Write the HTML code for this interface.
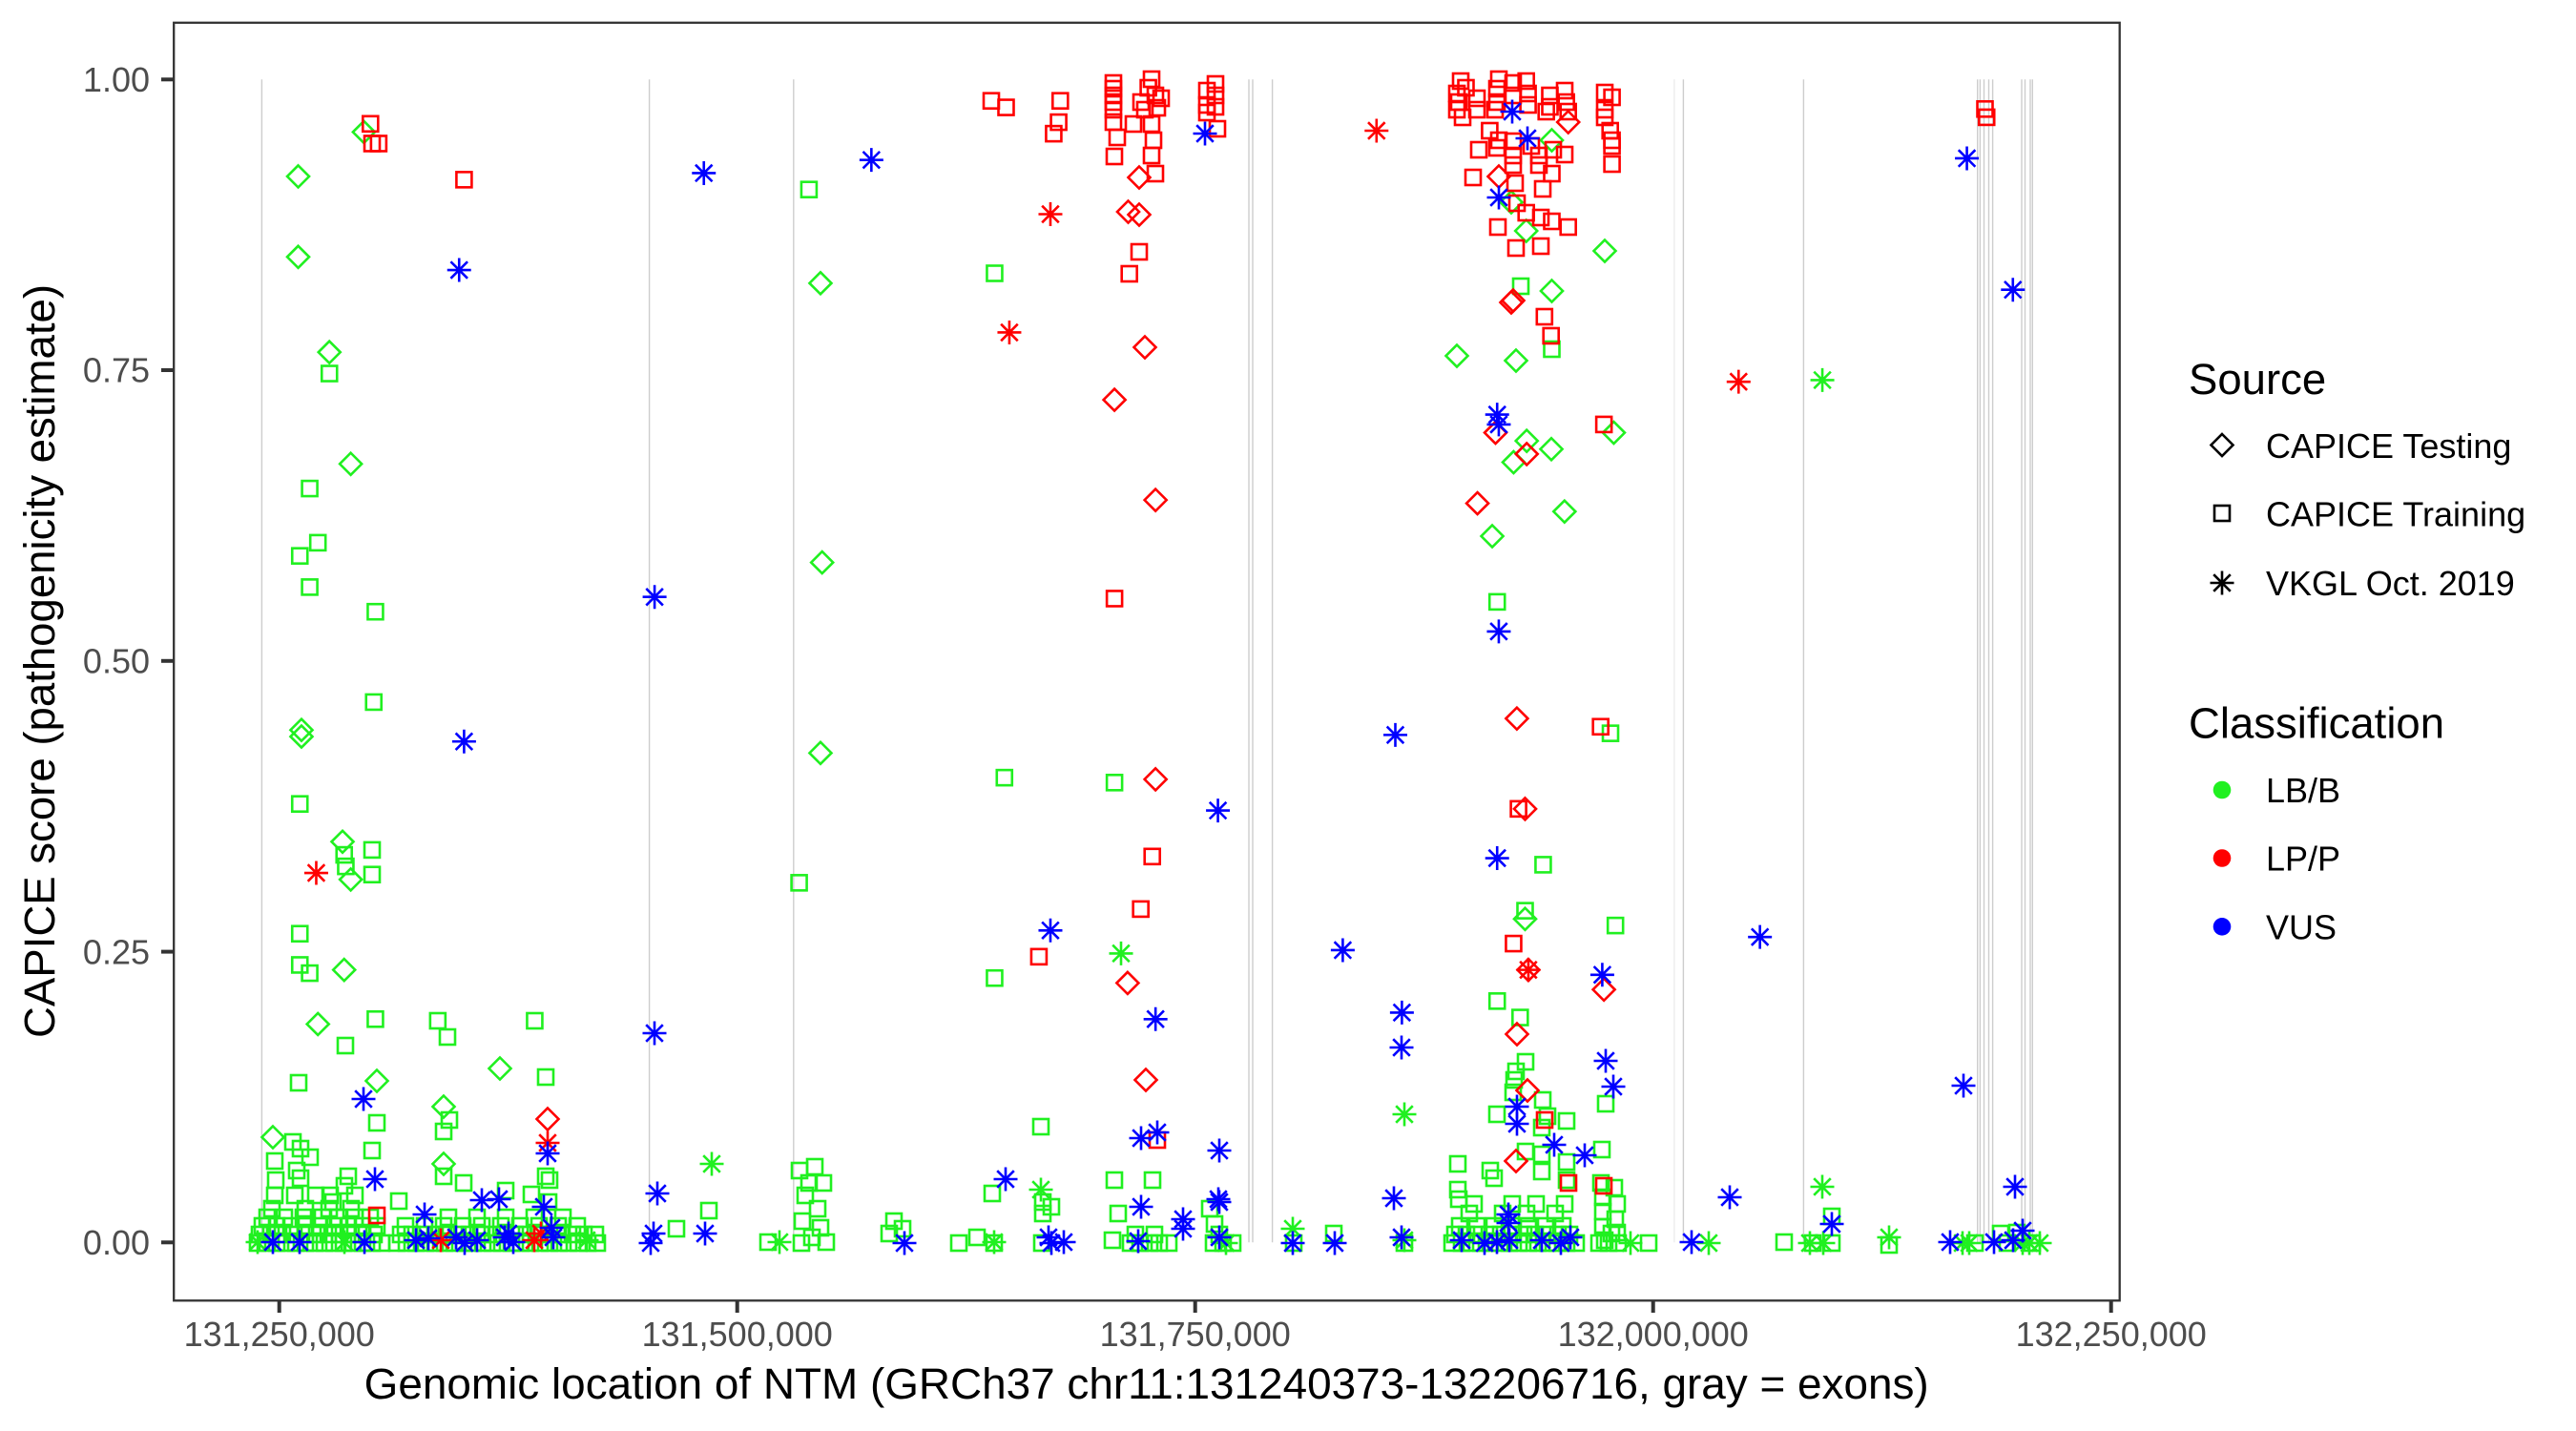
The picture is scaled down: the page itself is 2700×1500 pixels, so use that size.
<!DOCTYPE html>
<html><head><meta charset="utf-8"><style>
html,body{margin:0;padding:0;background:#fff;}
svg{display:block;font-family:"Liberation Sans",Arial,sans-serif;}
</style></head><body>
<svg width="2700" height="1500" viewBox="0 0 2700 1500" xmlns="http://www.w3.org/2000/svg" xmlns:xlink="http://www.w3.org/1999/xlink">
<rect x="0" y="0" width="2700" height="1500" fill="#fff"/>
<defs>
<rect id="s" x="-8" y="-8" width="16" height="16"/>
<path id="d" d="M0 -11.5L11.5 0L0 11.5L-11.5 0Z"/>
<path id="a" d="M0 -12.5V12.5M-12.5 0H12.5M-8.8 -8.8L8.8 8.8M-8.8 8.8L8.8 -8.8"/>
<g id="S" transform="scale(.5809 .5807)"><use href="#s"/></g>
<g id="D" transform="scale(.5809 .5807)"><use href="#d"/></g>
<g id="A" transform="scale(.5809 .5807)"><use href="#a"/></g>
</defs>

<!-- exon lines -->
<g stroke="#cdcdcd" stroke-width="1.4">
<line x1="274.4" y1="83.3" x2="274.4" y2="1302.3"/>
<line x1="680.6" y1="83.3" x2="680.6" y2="1302.3"/>
<line x1="831.8" y1="83.3" x2="831.8" y2="1302.3"/>
<line x1="1309" y1="83.3" x2="1309" y2="1302.3"/>
<line x1="1313" y1="83.3" x2="1313" y2="1302.3"/>
<line x1="1333.6" y1="83.3" x2="1333.6" y2="1302.3"/>
<line x1="1754.9" y1="83.3" x2="1754.9" y2="1302.3" stroke="#ececec"/>
<line x1="1764.4" y1="83.3" x2="1764.4" y2="1302.3"/>
<line x1="1890.4" y1="83.3" x2="1890.4" y2="1302.3"/>
<line x1="2072.7" y1="83.3" x2="2072.7" y2="1302.3"/>
<line x1="2075.4" y1="83.3" x2="2075.4" y2="1302.3"/>
<line x1="2079.5" y1="83.3" x2="2079.5" y2="1302.3"/>
<line x1="2084.5" y1="83.3" x2="2084.5" y2="1302.3"/>
<line x1="2088.6" y1="83.3" x2="2088.6" y2="1302.3"/>
<line x1="2119" y1="83.3" x2="2119" y2="1302.3"/>
<line x1="2122.5" y1="83.3" x2="2122.5" y2="1302.3"/>
<line x1="2128" y1="83.3" x2="2128" y2="1302.3"/>
<line x1="2130.3" y1="83.3" x2="2130.3" y2="1302.3"/>
</g>

<!-- GREEN (orig coords) -->
<g fill="none" stroke="#20f020" stroke-width="2.6">
<!-- band A -->
<use href="#s" x="270" y="1303"/><use href="#s" x="280" y="1303"/><use href="#s" x="290" y="1303"/><use href="#s" x="300" y="1303"/><use href="#s" x="310" y="1303"/><use href="#s" x="320" y="1303"/><use href="#s" x="330" y="1303"/><use href="#s" x="340" y="1303"/><use href="#s" x="350" y="1303"/><use href="#s" x="360" y="1303"/><use href="#s" x="370" y="1303"/><use href="#s" x="380" y="1303"/><use href="#s" x="390" y="1303"/><use href="#s" x="400" y="1303"/>
<use href="#s" x="272" y="1294"/><use href="#s" x="284" y="1294"/><use href="#s" x="296" y="1294"/><use href="#s" x="308" y="1294"/><use href="#s" x="320" y="1294"/><use href="#s" x="332" y="1294"/><use href="#s" x="344" y="1294"/><use href="#s" x="356" y="1294"/><use href="#s" x="368" y="1294"/><use href="#s" x="380" y="1294"/><use href="#s" x="392" y="1294"/>
<use href="#s" x="275" y="1285"/><use href="#s" x="290" y="1285"/><use href="#s" x="305" y="1285"/><use href="#s" x="320" y="1285"/><use href="#s" x="335" y="1285"/><use href="#s" x="350" y="1285"/><use href="#s" x="365" y="1285"/><use href="#s" x="380" y="1285"/><use href="#s" x="395" y="1285"/>
<use href="#s" x="280" y="1276"/><use href="#s" x="298" y="1276"/><use href="#s" x="318" y="1276"/><use href="#s" x="338" y="1276"/><use href="#s" x="355" y="1276"/><use href="#s" x="372" y="1276"/><use href="#s" x="388" y="1276"/>
<use href="#s" x="285" y="1267"/><use href="#s" x="320" y="1267"/><use href="#s" x="345" y="1267"/><use href="#s" x="368" y="1267"/>
<!-- band B -->
<use href="#s" x="416" y="1303"/><use href="#s" x="426" y="1303"/><use href="#s" x="436" y="1303"/><use href="#s" x="446" y="1303"/><use href="#s" x="456" y="1303"/><use href="#s" x="466" y="1303"/><use href="#s" x="476" y="1303"/><use href="#s" x="486" y="1303"/><use href="#s" x="496" y="1303"/><use href="#s" x="506" y="1303"/><use href="#s" x="516" y="1303"/><use href="#s" x="526" y="1303"/><use href="#s" x="536" y="1303"/><use href="#s" x="546" y="1303"/><use href="#s" x="556" y="1303"/><use href="#s" x="566" y="1303"/><use href="#s" x="576" y="1303"/><use href="#s" x="586" y="1303"/><use href="#s" x="596" y="1303"/><use href="#s" x="606" y="1303"/><use href="#s" x="616" y="1303"/><use href="#s" x="626" y="1303"/>
<use href="#s" x="420" y="1294"/><use href="#s" x="432" y="1294"/><use href="#s" x="444" y="1294"/><use href="#s" x="456" y="1294"/><use href="#s" x="468" y="1294"/><use href="#s" x="480" y="1294"/><use href="#s" x="492" y="1294"/><use href="#s" x="504" y="1294"/><use href="#s" x="516" y="1294"/><use href="#s" x="528" y="1294"/><use href="#s" x="540" y="1294"/><use href="#s" x="552" y="1294"/><use href="#s" x="564" y="1294"/><use href="#s" x="576" y="1294"/><use href="#s" x="588" y="1294"/><use href="#s" x="600" y="1294"/><use href="#s" x="612" y="1294"/><use href="#s" x="624" y="1294"/>
<use href="#s" x="425" y="1285"/><use href="#s" x="445" y="1285"/><use href="#s" x="465" y="1285"/><use href="#s" x="485" y="1285"/><use href="#s" x="505" y="1285"/><use href="#s" x="525" y="1285"/><use href="#s" x="545" y="1285"/><use href="#s" x="565" y="1285"/><use href="#s" x="585" y="1285"/><use href="#s" x="605" y="1285"/>
<use href="#s" x="470" y="1276"/><use href="#s" x="500" y="1276"/><use href="#s" x="530" y="1276"/><use href="#s" x="560" y="1276"/><use href="#s" x="590" y="1276"/>
<!-- zoom8 individual squares -->
<use href="#s" x="362" y="1096"/><use href="#s" x="469" y="1087"/><use href="#s" x="313" y="1135"/><use href="#s" x="572" y="1129"/><use href="#s" x="471" y="1174"/><use href="#s" x="465" y="1186"/><use href="#s" x="395" y="1177"/><use href="#s" x="307" y="1197"/><use href="#s" x="315" y="1204"/><use href="#s" x="325" y="1213"/><use href="#s" x="288" y="1217"/><use href="#s" x="311" y="1227"/><use href="#s" x="315" y="1235"/><use href="#s" x="390" y="1206"/><use href="#s" x="465" y="1233"/><use href="#s" x="486" y="1240"/><use href="#s" x="365" y="1233"/><use href="#s" x="361" y="1243"/><use href="#s" x="372" y="1253"/><use href="#s" x="418" y="1259"/><use href="#s" x="530" y="1248"/><use href="#s" x="557" y="1252"/><use href="#s" x="572" y="1233"/><use href="#s" x="576" y="1237"/><use href="#s" x="575" y="1260"/><use href="#s" x="289" y="1237"/><use href="#s" x="288" y="1253"/><use href="#s" x="309" y="1253"/><use href="#s" x="331" y="1253"/><use href="#s" x="346" y="1253"/><use href="#s" x="349" y="1260"/><use href="#s" x="743" y="1269"/><use href="#s" x="709" y="1288"/>
<use href="#s" x="838" y="1227"/><use href="#s" x="854" y="1223"/><use href="#s" x="863" y="1240"/><use href="#s" x="844" y="1253"/><use href="#s" x="857" y="1267"/><use href="#s" x="841" y="1280"/><use href="#s" x="860" y="1287"/><use href="#s" x="851" y="1297"/><use href="#s" x="866" y="1302"/><use href="#s" x="840" y="1303"/><use href="#s" x="848" y="1240"/><use href="#s" x="805" y="1302"/>
<use href="#s" x="937" y="1280"/><use href="#s" x="932" y="1293"/><use href="#s" x="946" y="1288"/><use href="#s" x="1040" y="1251"/><use href="#s" x="1091" y="1181"/><use href="#s" x="1093" y="1260"/><use href="#s" x="1102" y="1265"/><use href="#s" x="1093" y="1272"/><use href="#s" x="1168" y="1237"/><use href="#s" x="1172" y="1272"/><use href="#s" x="1005" y="1303"/><use href="#s" x="1024" y="1297"/><use href="#s" x="1042" y="1303"/><use href="#s" x="1092" y="1303"/><use href="#s" x="1166" y="1300"/>
<!-- zoom9 squares -->
<use href="#s" x="1599" y="1113"/><use href="#s" x="1589" y="1123"/><use href="#s" x="1587" y="1132"/><use href="#s" x="1586" y="1145"/><use href="#s" x="1683" y="1157"/><use href="#s" x="1617" y="1153"/><use href="#s" x="1569" y="1168"/><use href="#s" x="1622" y="1170"/><use href="#s" x="1642" y="1175"/><use href="#s" x="1616" y="1182"/><use href="#s" x="1208" y="1237"/><use href="#s" x="1268" y="1267"/><use href="#s" x="1273" y="1283"/><use href="#s" x="1599" y="1207"/><use href="#s" x="1616" y="1210"/><use href="#s" x="1642" y="1218"/><use href="#s" x="1679" y="1205"/><use href="#s" x="1528" y="1220"/><use href="#s" x="1528" y="1247"/><use href="#s" x="1562" y="1227"/><use href="#s" x="1566" y="1235"/><use href="#s" x="1616" y="1228"/><use href="#s" x="1642" y="1237"/><use href="#s" x="1529" y="1257"/><use href="#s" x="1920" y="1275"/>
<use href="#s" x="1678" y="1240"/><use href="#s" x="1692" y="1245"/><use href="#s" x="1680" y="1255"/><use href="#s" x="1695" y="1262"/><use href="#s" x="1680" y="1270"/><use href="#s" x="1693" y="1278"/><use href="#s" x="1680" y="1286"/><use href="#s" x="1695" y="1292"/><use href="#s" x="1682" y="1300"/><use href="#s" x="1696" y="1303"/>
<use href="#s" x="1522" y="1303"/><use href="#s" x="1532" y="1303"/><use href="#s" x="1542" y="1303"/><use href="#s" x="1552" y="1303"/><use href="#s" x="1562" y="1303"/><use href="#s" x="1572" y="1303"/><use href="#s" x="1582" y="1303"/><use href="#s" x="1592" y="1303"/><use href="#s" x="1602" y="1303"/><use href="#s" x="1612" y="1303"/><use href="#s" x="1622" y="1303"/><use href="#s" x="1632" y="1303"/><use href="#s" x="1642" y="1303"/><use href="#s" x="1652" y="1303"/>
<use href="#s" x="1525" y="1294"/><use href="#s" x="1537" y="1294"/><use href="#s" x="1549" y="1294"/><use href="#s" x="1561" y="1294"/><use href="#s" x="1573" y="1294"/><use href="#s" x="1585" y="1294"/><use href="#s" x="1597" y="1294"/><use href="#s" x="1609" y="1294"/><use href="#s" x="1621" y="1294"/><use href="#s" x="1633" y="1294"/><use href="#s" x="1645" y="1294"/>
<use href="#s" x="1530" y="1285"/><use href="#s" x="1548" y="1285"/><use href="#s" x="1566" y="1285"/><use href="#s" x="1584" y="1285"/><use href="#s" x="1602" y="1285"/><use href="#s" x="1620" y="1285"/><use href="#s" x="1638" y="1285"/>
<use href="#s" x="1540" y="1272"/><use href="#s" x="1575" y="1272"/><use href="#s" x="1600" y="1272"/><use href="#s" x="1630" y="1272"/><use href="#s" x="1545" y="1262"/><use href="#s" x="1585" y="1262"/><use href="#s" x="1610" y="1262"/><use href="#s" x="1640" y="1262"/>
<use href="#s" x="1185" y="1303"/><use href="#s" x="1195" y="1303"/><use href="#s" x="1205" y="1303"/><use href="#s" x="1215" y="1303"/><use href="#s" x="1225" y="1303"/><use href="#s" x="1190" y="1294"/><use href="#s" x="1210" y="1294"/>
<use href="#s" x="1272" y="1303"/><use href="#s" x="1282" y="1303"/><use href="#s" x="1292" y="1303"/><use href="#s" x="1278" y="1294"/>
<use href="#s" x="1398" y="1293"/><use href="#s" x="1870" y="1302"/><use href="#s" x="1900" y="1303"/><use href="#s" x="1920" y="1303"/><use href="#s" x="1980" y="1305"/><use href="#s" x="1728" y="1303"/><use href="#s" x="2097" y="1293"/><use href="#s" x="2114" y="1292"/><use href="#s" x="2070" y="1303"/><use href="#s" x="2130" y="1303"/><use href="#s" x="2104" y="1303"/><use href="#s" x="1686" y="1303"/><use href="#s" x="1676" y="1303"/><use href="#s" x="1689" y="1293"/><use href="#s" x="1472" y="1303"/><use href="#s" x="1356" y="1303"/>
<!-- zoom7 green -->
<use href="#s" x="1594" y="300"/><use href="#s" x="1626.5" y="366"/>
<use href="#d" x="1626.5" y="147"/><use href="#d" x="1584" y="212"/><use href="#d" x="1599.7" y="242"/><use href="#d" x="1682" y="263"/><use href="#d" x="1626.5" y="305"/><use href="#d" x="1527" y="373"/><use href="#d" x="1589" y="378"/>
<!-- zoom8 diamonds/asterisks -->
<use href="#d" x="395" y="1133"/><use href="#d" x="524" y="1120"/><use href="#d" x="465" y="1160"/><use href="#d" x="286" y="1192"/><use href="#d" x="465" y="1220"/>
<use href="#a" x="746" y="1220"/><use href="#a" x="1091" y="1247"/><use href="#a" x="361" y="1302"/><use href="#a" x="615" y="1300"/><use href="#a" x="817" y="1302"/><use href="#a" x="1042" y="1302"/><use href="#a" x="270" y="1302"/>
<use href="#a" x="1472" y="1168"/><use href="#a" x="1910" y="1244"/><use href="#a" x="1355" y="1288"/><use href="#a" x="1472" y="1300"/><use href="#a" x="1709" y="1303"/><use href="#a" x="1791" y="1303"/><use href="#a" x="1897" y="1303"/><use href="#a" x="1911" y="1303"/><use href="#a" x="1980" y="1297"/><use href="#a" x="2057" y="1303"/><use href="#a" x="2064" y="1303"/><use href="#a" x="2127" y="1303"/><use href="#a" x="1285" y="1303"/><use href="#a" x="2120" y="1303"/><use href="#a" x="2138" y="1303"/>
</g>

<!-- GREEN (display coords) -->
<g fill="none" stroke="#20f020" stroke-width="2.6" transform="matrix(1.7215 0 0 1.722 0.94 0.64)">
<use href="#D" x="221" y="80"/><use href="#D" x="181" y="107"/><use href="#D" x="181" y="156"/><use href="#D" x="200" y="214"/><use href="#D" x="213" y="282"/><use href="#D" x="183" y="444"/><use href="#D" x="183" y="448"/><use href="#D" x="208" y="512"/><use href="#D" x="213" y="535"/><use href="#D" x="209" y="590"/><use href="#D" x="193" y="623"/><use href="#D" x="499" y="172"/><use href="#D" x="500" y="342"/><use href="#D" x="499" y="458"/><use href="#D" x="929" y="268"/><use href="#D" x="944" y="273"/><use href="#D" x="921" y="281"/><use href="#D" x="908" y="326"/><use href="#D" x="952" y="311"/><use href="#D" x="982" y="263"/><use href="#D" x="928" y="559"/>
<use href="#S" x="200" y="227"/><use href="#S" x="188" y="297"/><use href="#S" x="193" y="330"/><use href="#S" x="182" y="338"/><use href="#S" x="188" y="357"/><use href="#S" x="228" y="372"/><use href="#S" x="227" y="427"/><use href="#S" x="182" y="489"/><use href="#S" x="209" y="520"/><use href="#S" x="210" y="527"/><use href="#S" x="226" y="517"/><use href="#S" x="226" y="532"/><use href="#S" x="182" y="568"/><use href="#S" x="182" y="587"/><use href="#S" x="188" y="592"/><use href="#S" x="228" y="620"/><use href="#S" x="266" y="621"/><use href="#S" x="325" y="621"/><use href="#S" x="492" y="115"/><use href="#S" x="486" y="537"/><use href="#S" x="605" y="166"/><use href="#S" x="611" y="473"/><use href="#S" x="605" y="595"/><use href="#S" x="678" y="476"/><use href="#S" x="911" y="366"/><use href="#S" x="939" y="526"/><use href="#S" x="928" y="554"/><use href="#S" x="980" y="446"/><use href="#S" x="983" y="563"/><use href="#S" x="911" y="609"/><use href="#S" x="925" y="619"/>
<use href="#A" x="682" y="580"/><use href="#A" x="1109" y="231"/>
</g>

<!-- RED (orig coords) -->
<g fill="none" stroke="#ff0000" stroke-width="2.6">
<use href="#s" x="1167" y="87"/><use href="#s" x="1167" y="93"/><use href="#s" x="1167" y="100"/><use href="#s" x="1167" y="107"/><use href="#s" x="1167" y="115"/><use href="#s" x="1167" y="128"/><use href="#s" x="1171" y="144"/><use href="#s" x="1168" y="164"/>
<use href="#s" x="1207" y="83"/><use href="#s" x="1203.6" y="92"/><use href="#s" x="1211" y="100"/><use href="#s" x="1196" y="107"/><use href="#s" x="1217" y="103"/><use href="#s" x="1200" y="115"/><use href="#s" x="1213" y="113"/><use href="#s" x="1188" y="130"/><use href="#s" x="1207" y="130"/><use href="#s" x="1209" y="147"/><use href="#s" x="1207" y="163"/><use href="#s" x="1211" y="182"/><use href="#s" x="1194" y="264"/><use href="#s" x="1183.7" y="287"/>
<use href="#s" x="1274" y="88"/><use href="#s" x="1265" y="95"/><use href="#s" x="1274" y="100"/><use href="#s" x="1265" y="110"/><use href="#s" x="1274" y="112"/><use href="#s" x="1265" y="118"/><use href="#s" x="1276" y="135"/>
<use href="#s" x="1531" y="85"/><use href="#s" x="1536.5" y="92"/><use href="#s" x="1527" y="98"/><use href="#s" x="1529" y="107"/><use href="#s" x="1527" y="115"/><use href="#s" x="1533" y="123"/><use href="#s" x="1548" y="103"/><use href="#s" x="1548" y="115"/><use href="#s" x="1571" y="83"/><use href="#s" x="1569" y="93"/><use href="#s" x="1569" y="107"/><use href="#s" x="1567" y="115"/><use href="#s" x="1586" y="87"/><use href="#s" x="1586" y="100"/><use href="#s" x="1599.7" y="85"/><use href="#s" x="1601.6" y="98"/><use href="#s" x="1601.6" y="110"/><use href="#s" x="1624.5" y="100"/><use href="#s" x="1624.5" y="112"/><use href="#s" x="1640" y="95"/><use href="#s" x="1641.7" y="107"/><use href="#s" x="1643.7" y="117"/><use href="#s" x="1620.7" y="117"/><use href="#s" x="1682" y="97"/><use href="#s" x="1689.6" y="102"/><use href="#s" x="1682" y="115"/><use href="#s" x="1682" y="123"/><use href="#s" x="1687.7" y="137"/><use href="#s" x="1689.6" y="147"/><use href="#s" x="1689.6" y="153"/><use href="#s" x="1689.6" y="172"/>
<use href="#s" x="1561.4" y="137"/><use href="#s" x="1571" y="147"/><use href="#s" x="1550" y="157"/><use href="#s" x="1569" y="155"/><use href="#s" x="1586" y="148"/><use href="#s" x="1586" y="163"/><use href="#s" x="1586" y="173"/><use href="#s" x="1605" y="153"/><use href="#s" x="1613" y="163"/><use href="#s" x="1613" y="173"/><use href="#s" x="1628" y="157"/><use href="#s" x="1640" y="162"/><use href="#s" x="1626.5" y="182"/><use href="#s" x="1544" y="186"/><use href="#s" x="1588" y="192"/><use href="#s" x="1617" y="198"/><use href="#s" x="1590" y="213"/><use href="#s" x="1599.7" y="223"/><use href="#s" x="1615" y="228"/><use href="#s" x="1626.5" y="232"/><use href="#s" x="1570" y="238"/><use href="#s" x="1643.7" y="238"/><use href="#s" x="1589" y="260"/><use href="#s" x="1615" y="258"/><use href="#s" x="1618.8" y="332"/><use href="#s" x="1625.7" y="352"/>
<use href="#d" x="1194" y="186"/><use href="#d" x="1182.5" y="222"/><use href="#d" x="1194" y="225"/><use href="#d" x="1200" y="364"/><use href="#d" x="1643.7" y="128"/><use href="#d" x="1571" y="185"/><use href="#d" x="1586" y="315"/><use href="#d" x="1584" y="317"/>
<use href="#a" x="1442.8" y="137"/>
<use href="#s" x="395" y="1274"/><use href="#d" x="574" y="1173"/>
<use href="#a" x="574" y="1198"/><use href="#a" x="462" y="1300"/><use href="#a" x="560" y="1300"/><use href="#a" x="567" y="1293"/>
<use href="#d" x="1590" y="1084"/><use href="#d" x="1201" y="1132"/><use href="#d" x="1601" y="1143"/><use href="#d" x="1589" y="1217"/>
<use href="#s" x="1213" y="1195"/><use href="#s" x="1619" y="1174"/><use href="#s" x="1644" y="1240"/><use href="#s" x="1681" y="1243"/>
</g>

<!-- RED (display coords) -->
<g fill="none" stroke="#ff0000" stroke-width="2.6" transform="matrix(1.7215 0 0 1.722 0.94 0.64)">
<use href="#S" x="225" y="75"/><use href="#S" x="226" y="87"/><use href="#S" x="230" y="87"/><use href="#S" x="282" y="109"/><use href="#S" x="603" y="61"/><use href="#S" x="612" y="65"/><use href="#S" x="645" y="61"/><use href="#S" x="644" y="74"/><use href="#S" x="641" y="81"/><use href="#S" x="632" y="582"/><use href="#S" x="678" y="364"/><use href="#S" x="701" y="521"/><use href="#S" x="694" y="553"/><use href="#S" x="974" y="442"/><use href="#S" x="924" y="492"/><use href="#S" x="921" y="574"/><use href="#S" x="976" y="258"/><use href="#S" x="1208" y="66"/><use href="#S" x="1209" y="71"/>
<use href="#D" x="678" y="243"/><use href="#D" x="703" y="304"/><use href="#D" x="703" y="474"/><use href="#D" x="686" y="598"/><use href="#D" x="910" y="263"/><use href="#D" x="929" y="276"/><use href="#D" x="899" y="306"/><use href="#D" x="923" y="437"/><use href="#D" x="928" y="492"/><use href="#D" x="930" y="590"/><use href="#D" x="976" y="602"/>
<use href="#A" x="192" y="531"/><use href="#A" x="639" y="130"/><use href="#A" x="614" y="202"/><use href="#A" x="1058" y="232"/><use href="#A" x="930" y="590"/>
</g>

<!-- BLUE (orig coords) -->
<g fill="none" stroke="#0000ff" stroke-width="2.6">
<use href="#a" x="1585" y="117"/><use href="#a" x="1601" y="145"/><use href="#a" x="1571" y="207"/><use href="#a" x="1263" y="140"/>
<use href="#a" x="381" y="1152"/><use href="#a" x="686" y="1083"/><use href="#a" x="574" y="1209"/><use href="#a" x="393" y="1236"/><use href="#a" x="505" y="1258"/><use href="#a" x="523" y="1257"/><use href="#a" x="570" y="1265"/><use href="#a" x="445" y="1273"/><use href="#a" x="689" y="1251"/><use href="#a" x="739" y="1293"/><use href="#a" x="685" y="1293"/><use href="#a" x="682" y="1303"/><use href="#a" x="948" y="1303"/><use href="#a" x="1054" y="1236"/><use href="#a" x="1099" y="1297"/><use href="#a" x="1115" y="1302"/><use href="#a" x="1102" y="1303"/>
<use href="#a" x="286" y="1302"/><use href="#a" x="314" y="1302"/><use href="#a" x="382" y="1302"/><use href="#a" x="436" y="1300"/><use href="#a" x="449" y="1298"/><use href="#a" x="478" y="1297"/><use href="#a" x="487" y="1303"/><use href="#a" x="500" y="1300"/><use href="#a" x="529" y="1297"/><use href="#a" x="538" y="1302"/><use href="#a" x="533" y="1293"/><use href="#a" x="578" y="1287"/><use href="#a" x="580" y="1297"/>
<use href="#a" x="1469" y="1098"/><use href="#a" x="1683" y="1112"/><use href="#a" x="1691" y="1139"/><use href="#a" x="1590" y="1160"/><use href="#a" x="1590" y="1178"/><use href="#a" x="2058" y="1138"/><use href="#a" x="1196" y="1193"/><use href="#a" x="1213" y="1187"/><use href="#a" x="1278" y="1206"/><use href="#a" x="1196" y="1265"/><use href="#a" x="1277" y="1257"/><use href="#a" x="1278" y="1260"/><use href="#a" x="1240" y="1278"/><use href="#a" x="1240" y="1288"/><use href="#a" x="1629" y="1200"/><use href="#a" x="1661" y="1211"/><use href="#a" x="1461" y="1256"/><use href="#a" x="1813" y="1255"/><use href="#a" x="2112" y="1244"/><use href="#a" x="1920" y="1283"/><use href="#a" x="1581" y="1273"/><use href="#a" x="1581" y="1282"/>
<use href="#a" x="1193" y="1301"/><use href="#a" x="1278" y="1297"/><use href="#a" x="1355" y="1303"/><use href="#a" x="1399" y="1303"/><use href="#a" x="1469" y="1297"/><use href="#a" x="1532" y="1300"/><use href="#a" x="1556" y="1303"/><use href="#a" x="1569" y="1302"/><use href="#a" x="1582" y="1300"/><use href="#a" x="1616" y="1300"/><use href="#a" x="1636" y="1303"/><use href="#a" x="1646" y="1297"/><use href="#a" x="1773" y="1302"/><use href="#a" x="2044" y="1302"/><use href="#a" x="2090" y="1302"/><use href="#a" x="2120" y="1290"/><use href="#a" x="2110" y="1300"/>
</g>

<!-- BLUE (display coords) -->
<g fill="none" stroke="#0000ff" stroke-width="2.6" transform="matrix(1.7215 0 0 1.722 0.94 0.64)">
<use href="#A" x="279" y="164"/><use href="#A" x="282" y="451"/><use href="#A" x="428" y="105"/><use href="#A" x="530" y="97"/><use href="#A" x="398" y="363"/><use href="#A" x="639" y="566"/><use href="#A" x="703" y="620"/><use href="#A" x="741" y="493"/><use href="#A" x="849" y="447"/><use href="#A" x="817" y="578"/><use href="#A" x="853" y="616"/><use href="#A" x="911" y="252"/><use href="#A" x="912" y="258"/><use href="#A" x="912" y="384"/><use href="#A" x="911" y="522"/><use href="#A" x="975" y="593"/><use href="#A" x="1071" y="570"/><use href="#A" x="1197" y="96"/><use href="#A" x="1225" y="176"/>
</g>

<!-- panel border -->
<rect x="182.2" y="23.8" width="2039.5" height="1339.5" fill="none" stroke="#333" stroke-width="2.3"/>

<!-- ticks -->
<g stroke="#333" stroke-width="4">
<line x1="169" y1="83.3" x2="182" y2="83.3"/>
<line x1="169" y1="388" x2="182" y2="388"/>
<line x1="169" y1="692.8" x2="182" y2="692.8"/>
<line x1="169" y1="997.6" x2="182" y2="997.6"/>
<line x1="169" y1="1302.3" x2="182" y2="1302.3"/>
<line x1="292.7" y1="1363" x2="292.7" y2="1376"/>
<line x1="772.7" y1="1363" x2="772.7" y2="1376"/>
<line x1="1252.7" y1="1363" x2="1252.7" y2="1376"/>
<line x1="1732.7" y1="1363" x2="1732.7" y2="1376"/>
<line x1="2212.7" y1="1363" x2="2212.7" y2="1376"/>
</g>
<g fill="#4d4d4d" font-size="36" text-anchor="end">
<text x="157" y="96">1.00</text>
<text x="157" y="400.7">0.75</text>
<text x="157" y="705.5">0.50</text>
<text x="157" y="1010.3">0.25</text>
<text x="157" y="1315">0.00</text>
</g>
<g fill="#4d4d4d" font-size="36" text-anchor="middle">
<text x="292.7" y="1411">131,250,000</text>
<text x="772.7" y="1411">131,500,000</text>
<text x="1252.7" y="1411">131,750,000</text>
<text x="1732.7" y="1411">132,000,000</text>
<text x="2212.7" y="1411">132,250,000</text>
</g>

<!-- axis titles -->
<text x="1201.7" y="1466" font-size="45.5" text-anchor="middle" fill="#000" textLength="1640" lengthAdjust="spacingAndGlyphs">Genomic location of NTM (GRCh37 chr11:131240373-132206716, gray = exons)</text>
<text transform="translate(57,693) rotate(-90)" font-size="45.5" text-anchor="middle" fill="#000" textLength="790" lengthAdjust="spacingAndGlyphs">CAPICE score (pathogenicity estimate)</text>

<!-- legend -->
<text x="2294" y="413" font-size="45.5" fill="#000">Source</text>
<g fill="none" stroke="#000" stroke-width="2.6">
<path d="M2329 455L2340.5 466.5L2329 478L2317.5 466.5Z"/>
<rect x="2321" y="530" width="16" height="16"/>
<path d="M2329 598.5V623.5M2316.5 611H2341.5M2320.2 602.2L2337.8 619.8M2320.2 619.8L2337.8 602.2"/>
</g>
<g font-size="36" fill="#000">
<text x="2375" y="480">CAPICE Testing</text>
<text x="2375" y="551.5">CAPICE Training</text>
<text x="2375" y="624">VKGL Oct. 2019</text>
</g>
<text x="2294" y="773.7" font-size="45.5" fill="#000">Classification</text>
<circle cx="2329" cy="828" r="9.3" fill="#20f020"/>
<circle cx="2329" cy="899.5" r="9.3" fill="#ff0000"/>
<circle cx="2329" cy="971.3" r="9.3" fill="#0000ff"/>
<g font-size="36" fill="#000">
<text x="2375" y="841">LB/B</text>
<text x="2375" y="912.5">LP/P</text>
<text x="2375" y="984.3">VUS</text>
</g>
</svg>
</body></html>
